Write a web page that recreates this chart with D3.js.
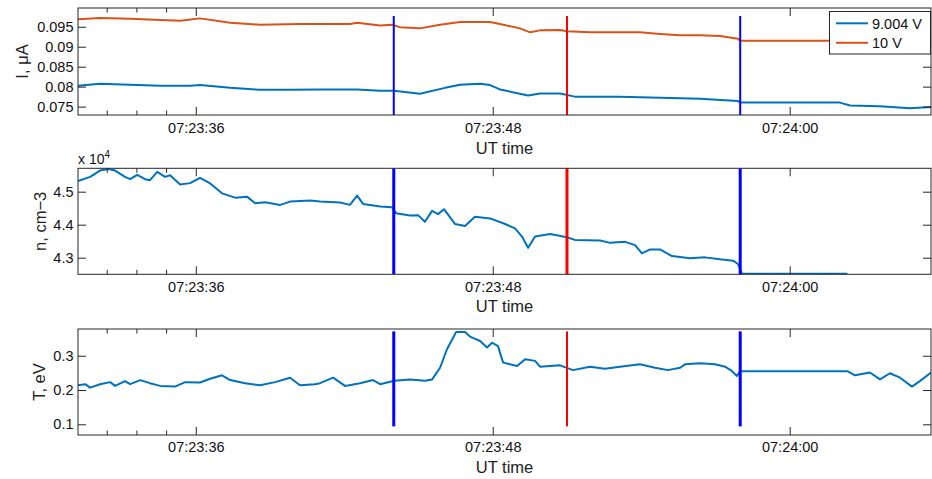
<!DOCTYPE html>
<html>
<head>
<meta charset="utf-8">
<script src="https://cdn.jsdelivr.net/npm/d3@7"></script>
<style>
  body { margin: 0; background: #fff; }
  svg { font-family: "Liberation Sans", Arial, Helvetica, sans-serif; }
</style>
</head>
<body>
<svg id="chart" width="932" height="479"></svg>
<script>
// times are seconds after 07:23:00 UT

// probe current, 9.004 V and 10 V (uA)
const iTime9 = [31.24, 32.13, 33.35, 34.56, 35.77, 36.17, 37.39, 38.60, 39.81, 41.02, 42.52, 43.45, 44.01,
  45.06, 46.07, 46.68, 47.49, 47.89, 48.29, 49.43, 49.91, 50.72, 51.32, 52.34, 53.14, 54.36, 56.38,
  57.91, 57.99, 62.03, 62.44, 63.65, 64.86, 65.71];
const i9 = [0.0802, 0.0807, 0.0805, 0.0802, 0.0802, 0.0804, 0.0797, 0.0792, 0.0792, 0.0793, 0.0793, 0.0790, 0.0790,
  0.0782, 0.0797, 0.0805, 0.0807, 0.0804, 0.0793, 0.0778, 0.0783, 0.0783, 0.0775, 0.0775, 0.0775, 0.0773, 0.0770,
  0.0764, 0.0760, 0.0760, 0.0753, 0.0751, 0.0746, 0.0749];

const iTime10 = [31.24, 32.13, 33.35, 34.56, 35.37, 36.17, 37.39, 38.60, 40.21, 41.02, 42.23, 42.52, 43.45,
  43.93, 44.25, 45.06, 45.87, 46.68, 47.49, 47.89, 48.29, 49.10, 49.51, 49.91, 50.72, 51.00, 51.93, 53.14,
  53.95, 54.76, 55.57, 56.38, 57.18, 57.91, 57.99, 65.71];
const i10 = [0.0969, 0.0972, 0.0970, 0.0967, 0.0965, 0.0971, 0.0960, 0.0955, 0.0957, 0.0957, 0.0957, 0.0960, 0.0953,
  0.0955, 0.0949, 0.0946, 0.0955, 0.0962, 0.0962, 0.0962, 0.0957, 0.0946, 0.0936, 0.0941, 0.0942, 0.0939, 0.0936, 0.0936,
  0.0936, 0.0932, 0.0929, 0.0929, 0.0927, 0.0920, 0.0915, 0.0915];

// density, cm-3
const nTime = [31.24, 31.73, 32.13, 32.46, 32.74, 33.14, 33.35, 33.63, 33.95, 34.15, 34.44, 34.76, 34.96, 35.37,
  35.77, 36.17, 36.58, 37.06, 37.59, 38.07, 38.40, 38.80, 39.41, 39.81, 40.62, 41.02, 41.83, 42.23, 42.52, 42.76,
  43.45, 43.93, 44.09, 44.66, 44.98, 45.26, 45.55, 45.79, 46.03, 46.48, 46.88, 47.28, 47.89, 48.50, 48.90, 49.18,
  49.43, 49.71, 50.32, 51.00, 51.32, 52.34, 52.74, 53.35, 53.75, 54.03, 54.36, 54.76, 55.24, 55.97, 56.58, 57.18,
  57.71, 57.91, 58.07, 62.33];
const nVals = [45320, 45450, 45640, 45690, 45640, 45450, 45380, 45510, 45380, 45350, 45600, 45450, 45500, 45220,
  45260, 45420, 45250, 44950, 44820, 44850, 44650, 44680, 44600, 44700, 44730, 44700, 44670, 44600, 44880, 44630,
  44550, 44530, 44350, 44280, 44290, 44090, 44420, 44320, 44470, 44020, 43960, 44240, 44190, 44020, 43890, 43640,
  43300, 43640, 43720, 43620, 43540, 43520, 43450, 43480, 43380, 43130, 43250, 43250, 43050, 42980, 43010, 42950,
  42910, 42810, 42515, 42515];

// temperature, eV
const tTime = [31.24, 31.53, 31.73, 32.13, 32.54, 32.74, 33.14, 33.35, 33.75, 34.15, 34.56, 35.16, 35.57, 36.17,
  36.58, 37.06, 37.39, 37.99, 38.60, 39.20, 39.81, 40.21, 40.82, 41.02, 41.55, 42.03, 42.64, 43.16, 43.45, 44.01,
  44.66, 45.26, 45.55, 45.87, 46.15, 46.52, 46.88, 47.08, 47.49, 47.77, 47.97, 48.21, 48.42, 48.98, 49.31, 49.71,
  49.91, 50.72, 51.24, 51.93, 52.54, 53.14, 53.95, 54.56, 55.08, 55.57, 55.77, 56.38, 56.98, 57.39, 57.67, 57.87,
  57.99, 62.33, 62.64, 63.24, 63.65, 64.05, 64.46, 64.94, 65.26, 65.71];
const tVals = [0.214, 0.217, 0.207, 0.217, 0.223, 0.212, 0.226, 0.217, 0.229, 0.220, 0.212, 0.210, 0.223, 0.222,
  0.233, 0.243, 0.229, 0.220, 0.214, 0.223, 0.236, 0.214, 0.217, 0.220, 0.236, 0.212, 0.220, 0.229, 0.217, 0.227,
  0.231, 0.227, 0.231, 0.265, 0.319, 0.369, 0.369, 0.356, 0.343, 0.324, 0.338, 0.328, 0.280, 0.270, 0.290, 0.285,
  0.268, 0.272, 0.258, 0.268, 0.262, 0.268, 0.275, 0.265, 0.258, 0.265, 0.275, 0.278, 0.275, 0.268, 0.255, 0.241,
  0.255, 0.255, 0.243, 0.251, 0.231, 0.249, 0.236, 0.210, 0.226, 0.251];

// event markers
const markerTimes = [44.0, 51.0, 58.0];
const markerColors = ['#0000ff', '#ff0000', '#0000ff'];

const majorTicks = [36, 48, 60];
const minorTicks = [32.4, 33.6, 34.8];
const iTicks = [0.075, 0.08, 0.085, 0.09, 0.095];
const nTicks = [43000, 44000, 45000];
const tTicks = [0.1, 0.2, 0.3];
const legendLabels = ['9.004 V', '10 V'];
const seriesColors = ['#0072bd', '#d95319'];

const base = new Date(2000, 0, 1, 7, 23, 0);
const toDate = s => new Date(base.getTime() + s * 1000);
const zip = (ts, vs) => ts.map((t, i) => ({ t: toDate(t), v: vs[i] }));

const svg = d3.select('#chart');
const left = 78, right = 931;
const axisColor = '#262626';

const x = d3.scaleTime()
  .domain([toDate(31.24), toDate(65.71)])
  .range([left, right]);

const panels = [
  {
    top: 8, bottom: 115, domain: [0.0729, 0.0997], ticks: iTicks, fmt: d => String(d),
    label: 'I, \u03bcA', labelX: 27.5,
    series: [zip(iTime9, i9), zip(iTime10, i10)],
    markerSpan: [0.0729, 0.0977], markerWidth: [2, 2, 2]
  },
  {
    top: 168.3, bottom: 274.3, domain: [42497, 45709], ticks: nTicks, fmt: d => String(d / 1e4),
    label: 'n, cm\u22123', labelX: 46,
    series: [zip(nTime, nVals)],
    markerSpan: [42497, 45709], markerWidth: [3, 3, 3]
  },
  {
    top: 329, bottom: 435, domain: [0.0688, 0.378], ticks: tTicks, fmt: d => String(d),
    label: 'T, eV', labelX: 45,
    series: [zip(tTime, tVals)],
    markerSpan: [0.094, 0.371], markerWidth: [3, 2, 3]
  }
];

panels.forEach((p, pi) => {
  const y = d3.scaleLinear().domain(p.domain).range([p.bottom, p.top]);
  const g = svg.append('g');

  const clipId = 'clip' + pi;
  svg.append('clipPath').attr('id', clipId)
    .append('rect')
    .attr('x', left).attr('y', p.top)
    .attr('width', right - left).attr('height', p.bottom - p.top);

  // data lines
  const line = d3.line().x(d => x(d.t)).y(d => y(d.v));
  p.series.forEach((s, si) => {
    g.append('path')
      .datum(s)
      .attr('clip-path', `url(#${clipId})`)
      .attr('fill', 'none')
      .attr('stroke', seriesColors[si])
      .attr('stroke-width', 2)
      .attr('stroke-linejoin', 'round')
      .attr('d', line);
  });

  // vertical event markers
  g.selectAll('.marker')
    .data(markerTimes)
    .enter().append('line')
    .attr('x1', d => x(toDate(d)))
    .attr('x2', d => x(toDate(d)))
    .attr('y1', y(p.markerSpan[0]))
    .attr('y2', y(p.markerSpan[1]))
    .attr('stroke', (d, i) => markerColors[i])
    .attr('stroke-width', (d, i) => p.markerWidth[i]);

  // box
  g.append('rect')
    .attr('x', left).attr('y', p.top)
    .attr('width', right - left).attr('height', p.bottom - p.top)
    .attr('fill', 'none')
    .attr('stroke', axisColor)
    .attr('stroke-width', 1);

  // axes, ticks pointing inward
  const fontSize = '14.5px';
  const xb = g.append('g')
    .attr('transform', `translate(0,${p.bottom})`)
    .call(d3.axisBottom(x).tickValues(majorTicks.map(toDate)).tickSize(-8).tickSizeOuter(0)
      .tickPadding(pi === 0 ? 7.7 : 7.2).tickFormat(d3.timeFormat('%H:%M:%S')));
  xb.call(a => a.select('.domain').remove());
  xb.selectAll('text').attr('fill', '#111').style('font-size', fontSize);
  xb.selectAll('line').attr('stroke', axisColor);

  const xbMinor = g.append('g')
    .attr('transform', `translate(0,${p.bottom})`)
    .call(d3.axisBottom(x).tickValues(minorTicks.map(toDate)).tickSize(-4.5).tickSizeOuter(0).tickFormat(''));
  xbMinor.select('.domain').remove();
  xbMinor.selectAll('line').attr('stroke', axisColor);

  const xt = g.append('g')
    .attr('transform', `translate(0,${p.top})`)
    .call(d3.axisTop(x).tickValues(majorTicks.map(toDate)).tickSize(-8).tickSizeOuter(0).tickFormat(''));
  xt.select('.domain').remove();
  xt.selectAll('line').attr('stroke', axisColor);

  const xtMinor = g.append('g')
    .attr('transform', `translate(0,${p.top})`)
    .call(d3.axisTop(x).tickValues(minorTicks.map(toDate)).tickSize(-4.5).tickSizeOuter(0).tickFormat(''));
  xtMinor.select('.domain').remove();
  xtMinor.selectAll('line').attr('stroke', axisColor);

  const yl = g.append('g')
    .attr('transform', `translate(${left},0)`)
    .call(d3.axisLeft(y).tickValues(p.ticks).tickSize(-8).tickSizeOuter(0).tickPadding(4.5).tickFormat(p.fmt));
  yl.select('.domain').remove();
  yl.selectAll('text').attr('fill', '#111').style('font-size', fontSize);
  yl.selectAll('line').attr('stroke', axisColor);

  const yr = g.append('g')
    .attr('transform', `translate(${right},0)`)
    .call(d3.axisRight(y).tickValues(p.ticks).tickSize(-8).tickSizeOuter(0).tickFormat(''));
  yr.select('.domain').remove();
  yr.selectAll('line').attr('stroke', axisColor);

  // axis titles
  g.append('text')
    .attr('x', (left + right) / 2)
    .attr('y', p.bottom + (pi === 0 ? 38.5 : 38))
    .attr('text-anchor', 'middle')
    .attr('fill', '#222')
    .style('font-size', '16.5px')
    .text('UT time');

  g.append('text')
    .attr('transform', `translate(${p.labelX},${(p.top + p.bottom) / 2}) rotate(-90)`)
    .attr('text-anchor', 'middle')
    .attr('fill', '#222')
    .style('font-size', '16.5px')
    .text(p.label);

  if (pi === 1) {
    const m = g.append('text')
      .attr('x', left)
      .attr('y', p.top - 4.5)
      .attr('fill', '#111')
      .style('font-size', '14px')
      .text('x 10');
    m.append('tspan')
      .attr('dy', -6)
      .style('font-size', '10px')
      .text('4');
  }
});

// legend for top panel
const legend = svg.append('g');
legend.append('rect')
  .attr('x', 829.5).attr('y', 11.5)
  .attr('width', 101).attr('height', 42.5)
  .attr('fill', '#fff')
  .attr('stroke', axisColor)
  .attr('stroke-width', 1);

const items = legend.selectAll('.item')
  .data(legendLabels)
  .enter().append('g')
  .attr('transform', (d, i) => `translate(836,${23.3 + i * 19.5})`);

items.append('line')
  .attr('x1', 0).attr('x2', 32)
  .attr('stroke', (d, i) => seriesColors[i])
  .attr('stroke-width', 2);

items.append('text')
  .attr('x', 36)
  .attr('dy', '0.36em')
  .attr('fill', '#111')
  .style('font-size', '14.5px')
  .text(d => d);
</script>
</body>
</html>
